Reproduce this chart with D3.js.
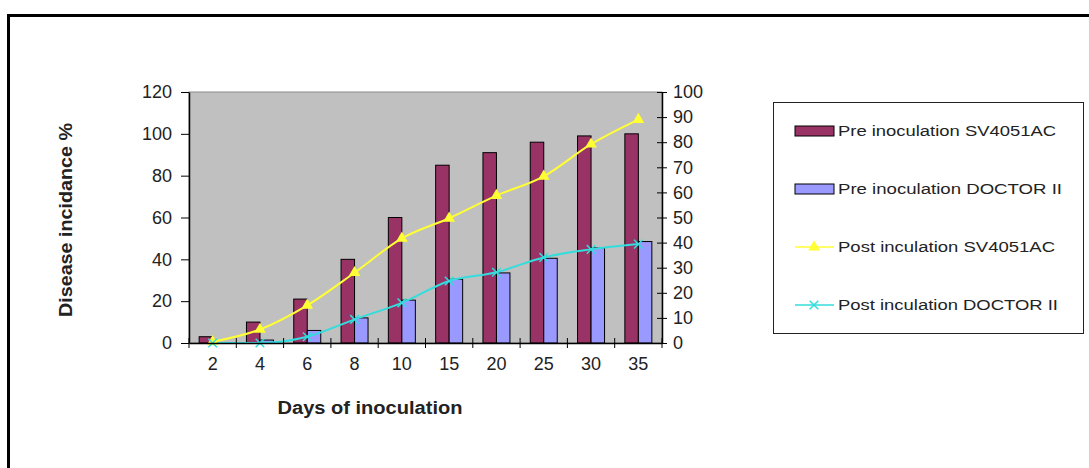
<!DOCTYPE html>
<html>
<head>
<meta charset="utf-8">
<script src="https://cdn.jsdelivr.net/npm/d3@7"></script>
<style>
  body { margin: 0; background: #fff; }
  svg { display: block; font-family: Arial, "Liberation Sans", sans-serif; }
</style>
</head>
<body>
<div id="chart"></div>
<script>
// Data
const days = ["2", "4", "6", "8", "10", "15", "20", "25", "30", "35"];
const preSV = [3, 10, 21, 40, 60, 85, 91, 96, 99, 100];        // left axis
const preDoctor = [0, 1.4, 6, 12, 20.5, 30.5, 33.5, 40.5, 45.5, 48.5];
const postSV = [0.5, 5.4, 15, 28, 41.7, 49.7, 58.7, 66.4, 79.2, 89]; // right axis
const postDoctor = [0, 0, 2.5, 9.4, 16, 24.7, 28.2, 34.1, 37.3, 39.4];
const leftTicks = [0, 20, 40, 60, 80, 100, 120];
const rightTicks = [0, 10, 20, 30, 40, 50, 60, 70, 80, 90, 100];
const seriesNames = ["Pre inoculation SV4051AC", "Pre inoculation DOCTOR II",
                     "Post inculation SV4051AC", "Post inculation DOCTOR II"];

const W = 1089, H = 468;
const plot = {left: 189, right: 662, top: 92, bottom: 343};
const colors = {preSV: "#993366", preDoc: "#9999ff", postSV: "#ffff33", postDoc: "#33dddd"};
const ink = "#222";

const svg = d3.select("#chart").append("svg").attr("width", W).attr("height", H);

// outer frame (runs off the right/bottom edge)
svg.append("rect")
    .attr("x", 8.5).attr("y", 15.5)
    .attr("width", 1100).attr("height", 500)
    .attr("fill", "none").attr("stroke", "#000").attr("stroke-width", 3);

const x = d3.scaleBand().domain(days).range([plot.left, plot.right]);
const yL = d3.scaleLinear().domain([0, 120]).range([plot.bottom, plot.top]);
const yR = d3.scaleLinear().domain([0, 100]).range([plot.bottom, plot.top]);

// plot background
svg.append("rect")
    .attr("x", plot.left).attr("y", plot.top)
    .attr("width", plot.right - plot.left).attr("height", plot.bottom - plot.top)
    .attr("fill", "#c0c0c0").attr("stroke", "#8a8a8a").attr("stroke-width", 1);

// bars
const barW = 13.5;
const bars = svg.append("g");
bars.selectAll("rect.sv").data(days).enter().append("rect")
    .attr("x", d => x(d) + x.bandwidth() / 2 - barW)
    .attr("y", (d, i) => yL(preSV[i]))
    .attr("width", barW)
    .attr("height", (d, i) => yL(0) - yL(preSV[i]))
    .attr("fill", colors.preSV).attr("stroke", "#000").attr("stroke-width", 1);
bars.selectAll("rect.doc").data(days).enter().append("rect")
    .attr("x", d => x(d) + x.bandwidth() / 2)
    .attr("y", (d, i) => yL(preDoctor[i]))
    .attr("width", barW)
    .attr("height", (d, i) => yL(0) - yL(preDoctor[i]))
    .attr("fill", colors.preDoc).attr("stroke", "#000").attr("stroke-width", 1);

// lines on right axis
const cx = d => x(d) + x.bandwidth() / 2;
const line = d3.line().x(d => cx(d.day)).y(d => yR(d.v)).curve(d3.curveMonotoneX);
const svPts = days.map((d, i) => ({day: d, v: postSV[i]}));
const docPts = days.map((d, i) => ({day: d, v: postDoctor[i]}));

svg.append("path").attr("d", line(svPts))
    .attr("fill", "none").attr("stroke", colors.postSV).attr("stroke-width", 2);
svg.append("path").attr("d", line(docPts))
    .attr("fill", "none").attr("stroke", colors.postDoc).attr("stroke-width", 2);

const tri = d3.symbol().type(d3.symbolTriangle).size(60);
const cross = d3.symbol().type(d3.symbolX).size(50);
svg.selectAll("path.tri").data(svPts).enter().append("path")
    .attr("transform", d => `translate(${cx(d.day)},${yR(d.v)})`)
    .attr("d", tri).attr("fill", colors.postSV);
svg.selectAll("path.x").data(docPts).enter().append("path")
    .attr("transform", d => `translate(${cx(d.day)},${yR(d.v)})`)
    .attr("d", cross).attr("fill", "none").attr("stroke", colors.postDoc).attr("stroke-width", 1.5);

// axes
const axL = svg.append("g").attr("transform", `translate(${plot.left},0)`)
    .call(d3.axisLeft(yL).tickValues(leftTicks).tickSize(8).tickSizeOuter(0).tickPadding(9));
const axR = svg.append("g").attr("transform", `translate(${plot.right},0)`)
    .call(d3.axisRight(yR).tickValues(rightTicks).tickSize(5).tickSizeOuter(0).tickPadding(6));
axR.selectAll(".tick line").attr("x1", -5);

const axB = svg.append("g").attr("transform", `translate(0,${plot.bottom})`)
    .call(d3.axisBottom(x).tickSize(0).tickPadding(14).tickSizeOuter(0));
// category separator ticks crossing the axis
svg.append("g").selectAll("line").data(d3.range(days.length + 1)).enter().append("line")
    .attr("x1", i => plot.left + i * x.step()).attr("x2", i => plot.left + i * x.step())
    .attr("y1", plot.bottom - 5).attr("y2", plot.bottom + 5)
    .attr("stroke", "#000");

[axL, axR, axB].forEach(a => {
    a.selectAll(".domain").attr("stroke", "#000").attr("stroke-width", 1.5);
    a.selectAll(".tick line").attr("stroke", "#000");
    a.selectAll("text").attr("font-size", 18).attr("fill", ink)
        .attr("font-family", "Arial, 'Liberation Sans', sans-serif");
});

// axis titles
svg.append("text")
    .attr("x", 370).attr("y", 414)
    .attr("text-anchor", "middle").attr("font-weight", "bold").attr("font-size", 17.5)
    .attr("textLength", 185).attr("lengthAdjust", "spacingAndGlyphs")
    .attr("fill", ink).text("Days  of inoculation");
svg.append("text")
    .attr("transform", "translate(72,220) rotate(-90)")
    .attr("text-anchor", "middle").attr("font-weight", "bold").attr("font-size", 17.5)
    .attr("textLength", 194).attr("lengthAdjust", "spacingAndGlyphs")
    .attr("fill", ink).text("Disease incidance %");

// legend
const lg = svg.append("g");
lg.append("rect").attr("x", 773.5).attr("y", 102.5).attr("width", 310).attr("height", 231)
    .attr("fill", "#fff").attr("stroke", ink).attr("stroke-width", 1);
const rowY = [131, 189, 247, 305];
const kinds = ["bar", "bar", "line", "line"];
const legendColors = [colors.preSV, colors.preDoc, colors.postSV, colors.postDoc];
const textLen = [218, 224, 217, 220];
seriesNames.forEach((name, i) => {
    if (kinds[i] === "bar") {
        lg.append("rect").attr("x", 795).attr("y", rowY[i] - 5).attr("width", 39).attr("height", 10)
            .attr("fill", legendColors[i]).attr("stroke", "#000");
    } else {
        lg.append("line").attr("x1", 795).attr("x2", 834).attr("y1", rowY[i]).attr("y2", rowY[i])
            .attr("stroke", legendColors[i]).attr("stroke-width", 1.5);
        const m = lg.append("path").attr("transform", `translate(814,${rowY[i]})`)
            .attr("d", i === 2 ? tri : cross);
        if (i === 2) m.attr("fill", legendColors[i]);
        else m.attr("fill", "none").attr("stroke", legendColors[i]).attr("stroke-width", 1.5);
    }
    lg.append("text").attr("x", 838).attr("y", rowY[i]).attr("dy", "0.35em")
        .attr("font-size", 15.5).attr("fill", ink)
        .attr("textLength", textLen[i]).attr("lengthAdjust", "spacingAndGlyphs")
        .text(name);
});
</script>
</body>
</html>
